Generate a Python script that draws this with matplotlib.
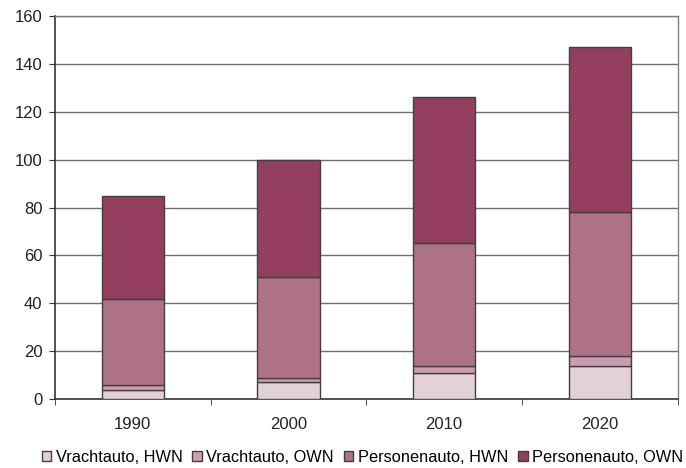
import matplotlib
matplotlib.use("Agg")
import matplotlib.pyplot as plt
import numpy as np

plt.rcParams['font.family'] = ['Liberation Sans', 'DejaVu Sans']

years = ['1990', '2000', '2010', '2020']
vracht_hwn = [4, 7, 11, 14]
vracht_own = [2, 2, 3, 4]
pers_hwn = [36, 42, 51, 60]
pers_own = [43, 49, 61, 69]

series = [
    ('Vrachtauto, HWN', vracht_hwn, '#E3D1D9'),
    ('Vrachtauto, OWN', vracht_own, '#CC9DB0'),
    ('Personenauto, HWN', pers_hwn, '#AD7188'),
    ('Personenauto, OWN', pers_own, '#943F5F'),
]

fig = plt.figure(figsize=(6.86, 4.68), dpi=100)
ax = fig.add_axes([0.080, 0.147, 0.908, 0.819])

x = np.arange(len(years))
bottom = np.zeros(len(years))
for label, vals, color in series:
    ax.bar(x, vals, 0.4, bottom=bottom, color=color, edgecolor='#404040',
           linewidth=1.0, label=label, zorder=3)
    bottom += np.array(vals)

ax.set_xlim(-0.5, len(years) - 0.5)
ax.set_ylim(0, 160)
ax.set_yticks(range(0, 161, 20))
ax.set_xticks(x)
ax.set_xticklabels(years)
ax.set_xticks(np.arange(-0.5, len(years) + 0.5, 1), minor=True)
ax.tick_params(axis='x', which='major', length=0, pad=13)
ax.tick_params(axis='x', which='minor', length=4, color='#333333')
ax.tick_params(axis='y', length=4, color='#333333', pad=5)
ax.tick_params(labelsize=12, labelcolor='#222222')
ax.yaxis.grid(True, color='#707070', linewidth=1.0, zorder=0)

for side in ['left', 'bottom']:
    ax.spines[side].set_color('#333333')
    ax.spines[side].set_linewidth(1.2)
for side in ['top', 'right']:
    ax.spines[side].set_color('#808080')
    ax.spines[side].set_linewidth(1.0)

fig.legend(loc='lower center', ncol=4, frameon=False, fontsize=11.8,
           bbox_to_anchor=(0.528, -0.025), handlelength=0.6, handleheight=0.6,
           handletextpad=0.25, columnspacing=0.6)

fig.savefig('out.png', dpi=100)
